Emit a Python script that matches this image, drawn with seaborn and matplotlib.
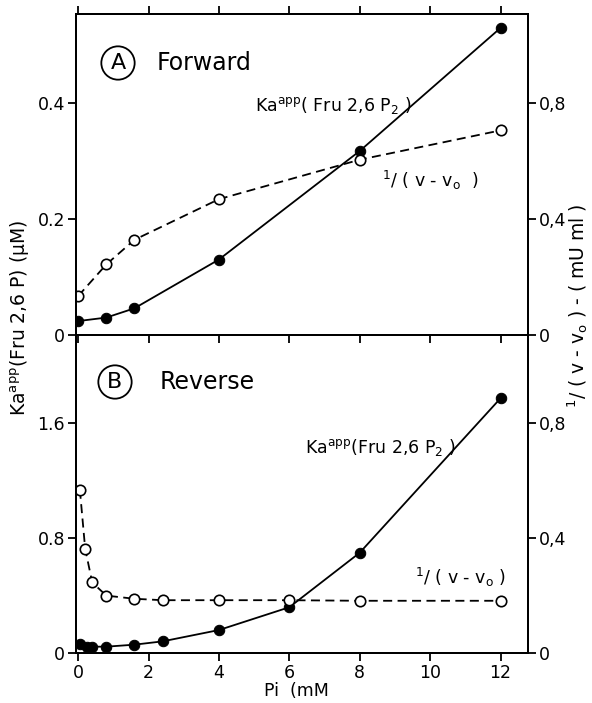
import numpy as np
import pandas as pd
import matplotlib
matplotlib.use("Agg")
import matplotlib.pyplot as plt
import seaborn as sns

sns.set_theme(style="ticks")
plt.rcParams['font.family'] = ['DejaVu Sans']
plt.rcParams['mathtext.fontset'] = 'dejavusans'
plt.rcParams['text.color'] = 'black'
plt.rcParams['axes.labelcolor'] = 'black'
plt.rcParams['xtick.color'] = 'black'
plt.rcParams['ytick.color'] = 'black'

# ---- Data ----
# Panel A: Forward
fwd_pi_ka = [0, 0.8, 1.6, 4, 8, 12]
fwd_ka = [0.024, 0.030, 0.046, 0.130, 0.317, 0.529]          # Ka app (µM), left axis
fwd_pi_inv = [0, 0.8, 1.6, 4, 8, 12]
fwd_inv = [0.134, 0.243, 0.328, 0.468, 0.604, 0.705]           # 1/(v-v0), right axis

# Panel B: Reverse
rev_pi_ka = [0.05, 0.25, 0.4, 0.8, 1.6, 2.4, 4, 6, 8, 12]
rev_ka = [0.061, 0.042, 0.042, 0.042, 0.056, 0.079, 0.158, 0.317, 0.697, 1.774]
rev_pi_inv = [0.05, 0.2, 0.4, 0.8, 1.6, 2.4, 4, 6, 8, 12]
rev_inv = [0.568, 0.363, 0.245, 0.199, 0.188, 0.183, 0.183, 0.183, 0.181, 0.181]

x_ticks = [0, 2, 4, 6, 8, 10, 12]
fwd_left_ticks = [0, 0.2, 0.4]
fwd_left_labels = ["0", "0.2", "0.4"]
rev_left_ticks = [0, 0.8, 1.6]
rev_left_labels = ["0", "0.8", "1.6"]
right_ticks = [0, 0.4, 0.8]
right_labels = ["0", "0,4", "0,8"]

W, H = 592, 703
fig = plt.figure(figsize=(W / 100, H / 100), dpi=100)
fig.patch.set_facecolor("white")

L, R = 76, 528
axA = fig.add_axes([L / W, 1 - 335 / H, (R - L) / W, (335 - 14) / H])
axB = fig.add_axes([L / W, 1 - 652.7 / H, (R - L) / W, (652.7 - 335) / H])
axA2 = axA.twinx()
axB2 = axB.twinx()

lw = 1.3
ms = 7.5
dash = (5, 3)

def solid(ax, x, y):
    sns.lineplot(x=x, y=y, ax=ax, color="black", lw=lw, marker="o", markersize=ms,
                 markerfacecolor="black", markeredgecolor="black", estimator=None)

def dashed(ax, x, y):
    sns.lineplot(x=x, y=y, ax=ax, color="black", lw=lw, marker="o", markersize=ms,
                 markerfacecolor="white", markeredgecolor="black", markeredgewidth=1.2,
                 dashes=False, linestyle=(0, dash), estimator=None)

solid(axA, fwd_pi_ka, fwd_ka)
dashed(axA2, fwd_pi_inv, fwd_inv)
solid(axB, rev_pi_ka, rev_ka)
dashed(axB2, rev_pi_inv, rev_inv)

xlim = (-0.06, 12.78)
for ax in (axA, axB, axA2, axB2):
    ax.set_xlim(*xlim)
    ax.set_xlabel("")
    ax.set_ylabel("")
    for s in ax.spines.values():
        s.set_linewidth(1.4)
        s.set_color("black")
    ax.patch.set_alpha(0)

axA.set_ylim(0, 0.553)
axA2.set_ylim(0, 1.106)
axB.set_ylim(0, 2.215)
axB2.set_ylim(0, 1.1075)

tick_kw = dict(direction="out", length=6, width=1.3, colors="black", labelsize=12.5, pad=2)
axA.set_xticks(x_ticks)
axA.tick_params(axis="x", top=True, bottom=True, labelbottom=False, **tick_kw)
axB.set_xticks(x_ticks)
axB.set_xticklabels([str(t) for t in x_ticks])
axB.tick_params(axis="x", top=False, bottom=True, labelbottom=True, **tick_kw)

axA.set_yticks(fwd_left_ticks)
axA.set_yticklabels(fwd_left_labels)
axB.set_yticks(rev_left_ticks)
axB.set_yticklabels(rev_left_labels)
axA.tick_params(axis="y", **tick_kw)
axB.tick_params(axis="y", **tick_kw)
for ax in (axA2, axB2):
    ax.set_yticks(right_ticks)
    ax.set_yticklabels(right_labels)
    ax.tick_params(axis="y", **tick_kw)

# Panel titles
def px(x, y):
    return x / W, 1 - y / H

circ = dict(boxstyle="circle,pad=0.3", fc="none", ec="black", lw=1.3)
fig.text(*px(118, 63), "A", fontsize=16, ha="center", va="center", color="black", bbox=circ)
fig.text(*px(157, 63), "Forward", fontsize=17, ha="left", va="center", color="black")
fig.text(*px(115, 382), "B", fontsize=16, ha="center", va="center", color="black", bbox=circ)
fig.text(*px(160, 382), "Reverse", fontsize=17, ha="left", va="center", color="black")

# Curve labels
fig.text(*px(255, 106), r"Ka$^{\rm app}$( Fru 2,6 P$_2$ )", fontsize=12.5, ha="left", va="center")
fig.text(*px(382, 180), r"$^1$/ ( v - v$_{\rm o}$  )", fontsize=12.5, ha="left", va="center")
fig.text(*px(305, 448), r"Ka$^{\rm app}$(Fru 2,6 P$_2$ )", fontsize=12.5, ha="left", va="center")
fig.text(*px(415, 577), r"$^1$/ ( v - v$_{\rm o}$ )", fontsize=12.5, ha="left", va="center")

# Axis labels
fig.text(*px(20, 318), r"Ka$^{\rm app}$(Fru 2,6 P) (μM)", fontsize=13.5, ha="center",
         va="center", rotation=90)
fig.text(*px(578, 306), r"$^1$/ ( v - v$_{\rm o}$ ) - ( mU ml )", fontsize=13.5, ha="center",
         va="center", rotation=90)
fig.text(*px(296, 691), "Pi  (mM", fontsize=12.5, ha="center", va="center")

fig.savefig("out.png", dpi=100, facecolor="white")
